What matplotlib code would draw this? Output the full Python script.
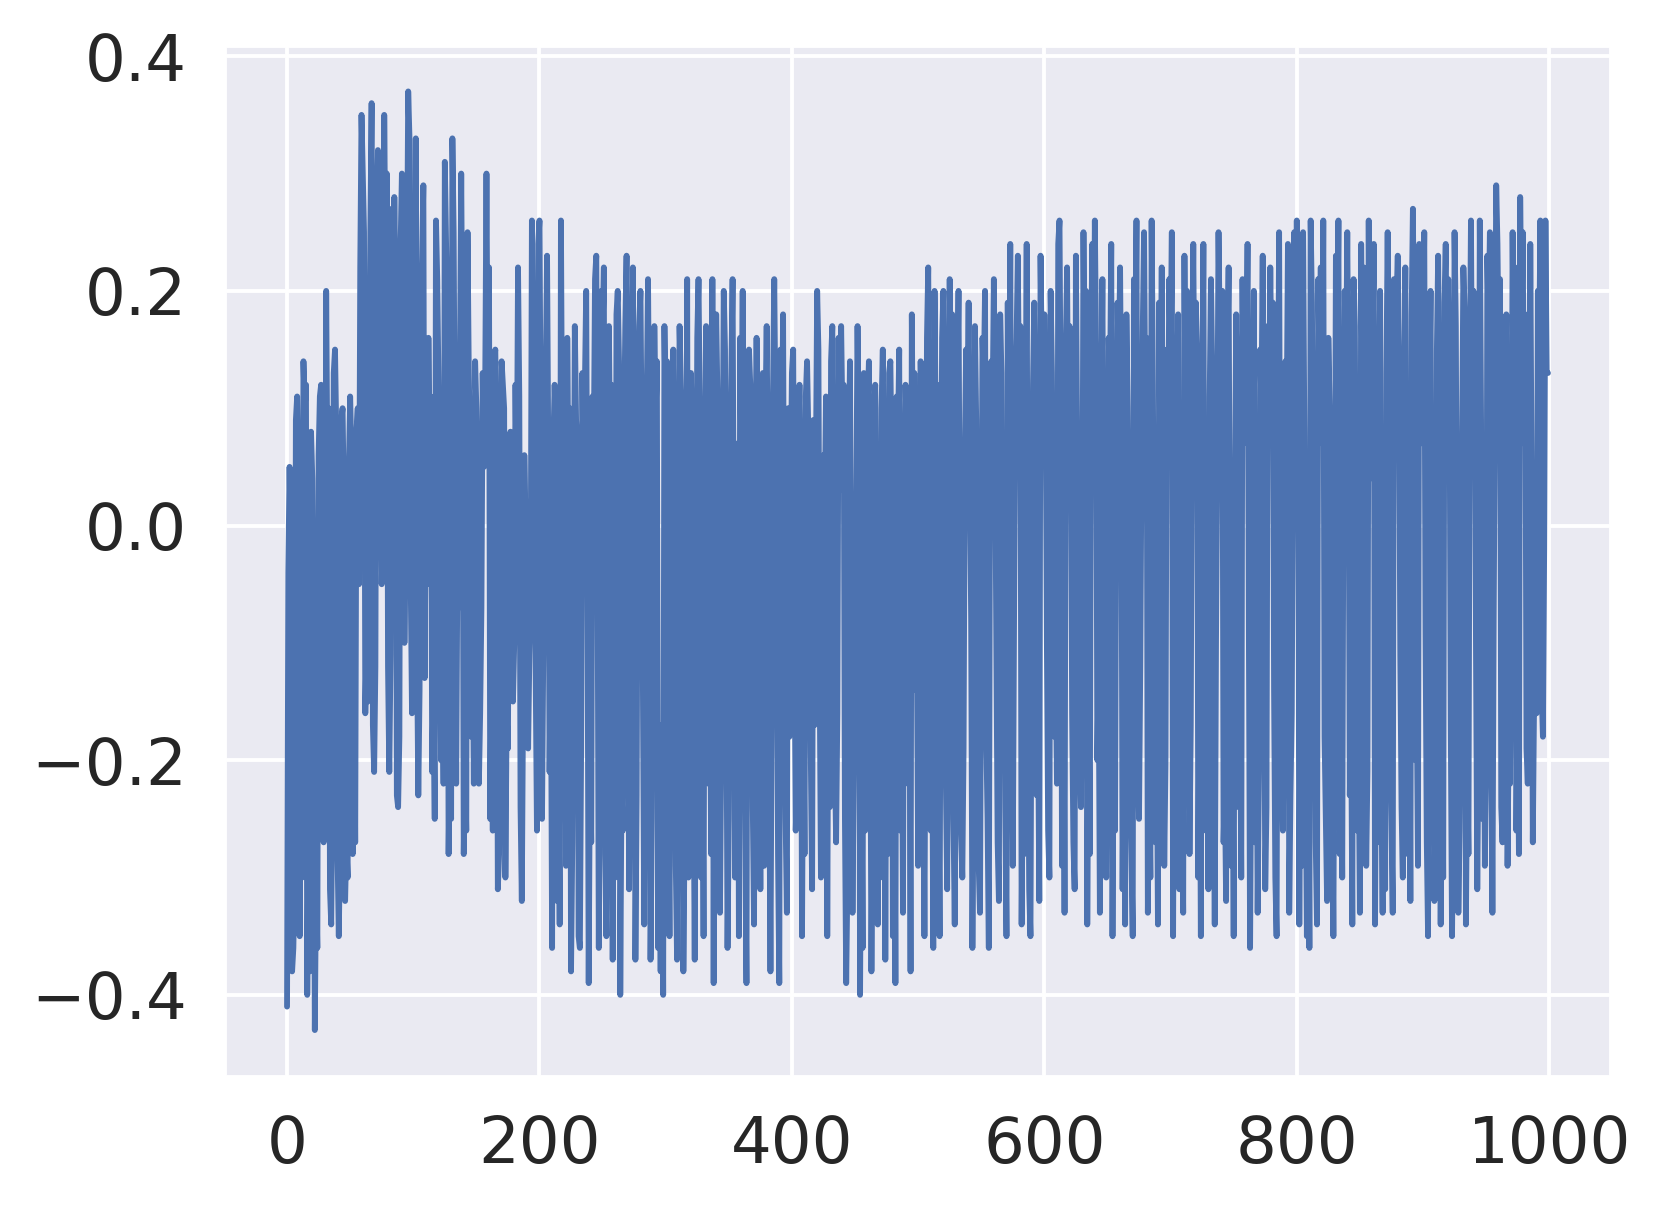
# Noisy signal trace, seaborn darkgrid look
# Values, 1000 samples split in blocks of 200

import matplotlib
matplotlib.use("Agg")
import matplotlib.pyplot as plt
import seaborn as sns

values_000_199 = [
    -0.41, -0.04, 0.05, -0.02, -0.38, -0.36, -0.30, 0.09, 0.11, 0.03, -0.35, -0.20, -0.30, 0.14, 0.10, 0.12, -0.40, -0.25, -0.38, 0.08,
    0.04, -0.10, -0.43, -0.30, -0.36, 0.06, 0.11, 0.12, -0.17, -0.27, -0.18, 0.20, 0.04, 0.10, -0.31, -0.34, -0.22, 0.13, 0.15, 0.08,
    -0.28, -0.35, -0.27, 0.09, 0.10, 0.02, -0.32, -0.27, -0.30, 0.05, 0.11, 0.06, -0.28, -0.12, -0.27, 0.08, 0.10, -0.05, 0.22, 0.35,
    0.30, 0.25, -0.16, -0.10, -0.15, 0.12, 0.25, 0.36, -0.17, -0.21, -0.12, 0.27, 0.32, 0.28, 0.10, -0.05, 0.01, 0.35, 0.22, 0.30,
    -0.12, -0.21, -0.11, 0.27, 0.15, 0.28, 0.20, -0.23, -0.24, -0.18, 0.24, 0.30, 0.19, -0.10, 0.01, 0.21, 0.37, 0.33, -0.05, -0.16,
    0.26, 0.14, 0.33, -0.11, -0.23, -0.14, 0.18, 0.23, 0.29, -0.13, 0.04, -0.05, 0.16, 0.07, 0.11, -0.21, -0.14, -0.25, 0.26, 0.21,
    0.12, -0.05, -0.20, -0.10, -0.22, 0.31, 0.24, 0.18, -0.28, -0.19, -0.25, 0.33, 0.25, 0.05, -0.22, -0.03, -0.07, 0.14, 0.30, 0.13,
    -0.28, -0.20, -0.26, 0.25, 0.13, 0.06, -0.18, -0.08, -0.22, 0.14, 0.10, 0.03, -0.22, -0.16, -0.07, 0.13, 0.05, 0.12, 0.30, 0.10,
    0.22, -0.25, -0.12, -0.26, 0.14, 0.15, 0.06, -0.31, -0.28, -0.19, 0.14, 0.12, 0.10, -0.30, -0.16, -0.19, 0.04, 0.08, -0.08, -0.15,
    -0.10, 0.12, 0.02, 0.22, 0.11, -0.24, -0.32, -0.15, 0.06, 0.00, 0.02, -0.19, -0.11, -0.06, 0.26, 0.09, 0.04, -0.13, -0.26, 0.24,
]

values_200_399 = [
    0.26, 0.08, -0.25, -0.11, -0.07, 0.13, 0.23, 0.06, -0.21, -0.10, -0.36, 0.07, 0.12, 0.08, -0.32, -0.16, -0.34, 0.26, 0.05, -0.13,
    -0.12, -0.29, 0.16, 0.03, 0.10, -0.38, -0.27, -0.07, 0.17, 0.09, 0.07, -0.35, -0.36, -0.19, 0.13, 0.02, 0.12, 0.20, -0.05, -0.39,
    -0.19, -0.27, 0.11, 0.06, 0.21, 0.23, -0.03, -0.36, -0.12, 0.20, 0.16, 0.22, -0.28, -0.35, -0.21, 0.17, 0.05, 0.12, -0.37, -0.05,
    -0.30, 0.18, 0.20, 0.14, -0.40, -0.22, -0.26, 0.08, 0.17, 0.23, -0.05, -0.31, -0.14, 0.12, 0.22, 0.04, -0.37, -0.23, 0.11, 0.17,
    0.20, 0.07, -0.15, -0.34, -0.09, 0.11, 0.21, 0.06, -0.37, -0.25, -0.02, 0.17, 0.09, 0.14, -0.36, -0.20, -0.38, -0.17, -0.40, 0.17,
    0.09, 0.14, -0.22, -0.35, -0.13, 0.06, 0.15, 0.01, -0.29, -0.37, -0.09, 0.17, 0.12, 0.08, -0.38, -0.26, -0.16, 0.21, -0.30, 0.03,
    0.13, 0.06, -0.20, -0.37, -0.08, 0.16, 0.21, 0.10, -0.30, -0.15, -0.35, 0.04, 0.17, 0.12, -0.22, -0.10, -0.28, 0.21, -0.39, 0.08,
    0.18, 0.11, -0.06, -0.33, -0.19, 0.02, 0.20, 0.15, -0.12, -0.36, -0.25, 0.06, 0.13, 0.21, -0.05, -0.30, -0.18, 0.07, -0.35, 0.16,
    0.04, 0.20, -0.11, -0.27, -0.39, 0.09, 0.15, 0.12, -0.02, -0.24, -0.34, 0.06, 0.16, 0.07, -0.14, -0.31, -0.07, 0.13, -0.29, 0.09,
    0.17, 0.03, -0.20, -0.38, -0.15, 0.11, 0.21, 0.09, -0.05, -0.28, -0.39, 0.15, 0.05, 0.18, -0.12, -0.25, -0.33, 0.10, -0.18, 0.02,
]

values_400_599 = [
    0.13, 0.15, -0.09, -0.26, -0.22, 0.07, 0.12, 0.03, -0.35, -0.14, -0.28, 0.11, 0.14, 0.08, -0.06, -0.20, -0.31, 0.09, -0.17, 0.05,
    0.20, 0.15, -0.13, -0.30, -0.22, 0.06, 0.01, 0.11, -0.35, -0.08, -0.24, 0.14, 0.17, -0.03, -0.19, -0.27, -0.16, 0.16, 0.03, 0.17,
    0.09, 0.12, -0.25, -0.39, -0.30, 0.05, 0.14, -0.14, -0.33, -0.21, -0.12, 0.02, 0.17, 0.08, -0.40, -0.18, -0.36, 0.13, -0.26, 0.04,
    0.10, 0.14, -0.12, -0.38, -0.23, 0.09, 0.12, -0.04, -0.34, -0.19, -0.30, 0.10, 0.15, 0.02, -0.37, -0.09, -0.28, 0.13, 0.14, 0.05,
    -0.35, -0.16, -0.39, 0.11, 0.07, 0.15, -0.26, -0.12, -0.33, 0.02, 0.12, 0.08, -0.22, -0.06, -0.38, 0.18, 0.03, 0.13, -0.14, -0.10,
    -0.29, 0.05, 0.14, 0.09, -0.17, -0.35, -0.10, 0.16, 0.22, 0.01, -0.26, -0.14, -0.36, 0.20, 0.07, 0.12, -0.20, -0.35, -0.04, 0.16,
    0.20, 0.08, -0.22, -0.31, -0.13, 0.21, 0.05, 0.18, -0.25, -0.34, -0.17, 0.11, 0.20, -0.03, -0.26, -0.30, -0.19, 0.06, 0.15, 0.10,
    0.19, 0.04, -0.08, -0.36, -0.22, 0.17, 0.09, -0.14, -0.29, -0.33, -0.07, 0.16, 0.12, 0.20, -0.18, -0.25, -0.36, 0.06, 0.14, 0.10,
    0.21, 0.07, -0.11, -0.27, -0.32, 0.18, 0.13, -0.16, -0.05, -0.24, -0.35, 0.19, 0.03, 0.24, -0.15, -0.29, -0.08, 0.11, 0.16, 0.23,
    0.09, 0.17, -0.34, -0.20, -0.28, 0.05, 0.24, -0.13, -0.31, -0.35, -0.06, 0.12, 0.19, 0.08, -0.23, -0.16, -0.32, 0.23, 0.14, 0.06,
]

values_600_799 = [
    0.18, 0.11, -0.10, -0.26, -0.30, 0.20, 0.13, -0.04, -0.18, -0.12, -0.22, 0.24, 0.26, 0.09, -0.29, -0.07, -0.33, 0.15, 0.22, 0.04,
    0.17, 0.10, -0.16, -0.27, -0.31, 0.23, 0.06, -0.10, -0.19, -0.24, -0.06, 0.25, 0.12, 0.20, -0.34, -0.14, -0.28, 0.14, 0.24, 0.07,
    0.26, 0.15, -0.20, -0.12, -0.33, 0.08, 0.21, -0.05, -0.23, -0.30, -0.18, 0.16, 0.11, 0.24, -0.35, -0.10, -0.26, 0.05, 0.19, 0.13,
    0.22, 0.07, -0.31, -0.15, -0.34, 0.18, 0.10, -0.03, -0.22, -0.28, -0.35, 0.21, 0.14, 0.26, -0.19, -0.25, -0.12, 0.06, 0.17, 0.25,
    0.09, 0.16, -0.33, -0.21, -0.30, 0.26, 0.12, -0.08, -0.27, -0.16, -0.34, 0.19, 0.03, 0.22, -0.11, -0.29, -0.20, 0.15, 0.07, 0.21,
    0.14, 0.25, -0.35, -0.06, -0.25, 0.10, 0.18, -0.31, -0.14, -0.22, -0.33, 0.23, 0.05, 0.20, -0.09, -0.28, -0.17, 0.12, 0.24, 0.08,
    0.19, 0.15, -0.30, -0.12, -0.35, 0.07, 0.24, -0.20, -0.26, -0.04, -0.31, 0.11, 0.21, 0.13, -0.18, -0.34, -0.10, 0.06, 0.25, 0.16,
    0.09, 0.20, -0.27, -0.22, -0.32, 0.14, 0.22, -0.07, -0.29, -0.15, -0.35, 0.03, 0.18, 0.11, -0.24, -0.13, -0.30, 0.21, 0.07, 0.19,
    0.13, 0.24, -0.08, -0.36, -0.17, 0.06, 0.20, -0.27, -0.11, -0.33, -0.21, 0.15, 0.10, 0.23, -0.05, -0.31, -0.24, 0.17, 0.08, 0.22,
    0.12, 0.19, -0.14, -0.30, -0.35, 0.05, 0.25, -0.09, -0.19, -0.26, -0.12, 0.14, 0.09, 0.24, -0.33, -0.23, -0.16, 0.06, 0.25, 0.11,
]

values_800_999 = [
    0.26, 0.16, -0.34, -0.10, -0.29, 0.25, 0.08, -0.20, -0.35, -0.14, -0.36, 0.26, 0.19, 0.03, -0.06, -0.27, -0.34, 0.21, 0.13, 0.22,
    0.07, 0.26, -0.18, -0.25, -0.32, 0.16, 0.10, -0.12, -0.21, -0.35, -0.08, 0.23, 0.14, 0.26, -0.28, -0.17, -0.30, 0.05, 0.20, 0.12,
    0.25, 0.09, -0.23, -0.15, -0.34, 0.21, 0.17, -0.06, -0.26, -0.19, -0.33, 0.24, 0.11, 0.22, -0.10, -0.29, -0.21, 0.26, 0.04, 0.18,
    0.15, 0.24, -0.34, -0.13, -0.27, 0.08, 0.20, -0.22, -0.33, -0.07, -0.31, 0.13, 0.25, 0.10, -0.18, -0.25, -0.33, 0.21, 0.06, 0.19,
    0.23, 0.14, -0.11, -0.24, -0.30, 0.09, 0.22, -0.16, -0.28, -0.05, -0.32, 0.18, 0.27, 0.12, -0.20, -0.14, -0.29, 0.24, 0.07, 0.21,
    0.16, 0.25, -0.09, -0.27, -0.35, 0.11, 0.20, -0.19, -0.08, -0.32, -0.22, 0.15, 0.23, 0.06, -0.34, -0.12, -0.30, 0.19, 0.24, 0.10,
    0.21, 0.13, -0.17, -0.35, -0.23, 0.25, 0.17, -0.09, -0.33, -0.26, -0.14, 0.08, 0.22, 0.18, -0.34, -0.20, -0.28, 0.12, 0.26, 0.06,
    0.20, 0.15, -0.11, -0.31, -0.18, 0.26, 0.09, -0.25, -0.06, -0.29, -0.21, 0.23, 0.17, 0.25, -0.13, -0.33, -0.08, 0.11, 0.29, 0.24,
    0.14, 0.21, -0.24, -0.27, -0.10, 0.09, 0.18, -0.29, -0.16, -0.22, -0.05, 0.25, 0.12, 0.22, -0.26, -0.13, -0.28, 0.28, 0.16, 0.25,
    0.07, 0.18, -0.19, -0.22, -0.10, 0.24, 0.05, -0.27, -0.15, -0.09, -0.16, 0.20, 0.14, 0.26, -0.14, -0.18, -0.02, 0.26, 0.13, 0.13,
]

signal = values_000_199 + values_200_399 + values_400_599 + values_600_799 + values_800_999
print("samples:", len(signal))

sns.set_theme(style="darkgrid", font_scale=1.5)

W, H, DPI = 1661, 1207, 280
fig = plt.figure(figsize=(W / DPI, H / DPI), dpi=DPI)
fig.subplots_adjust(left=224 / W, right=1611 / W, top=1 - 44.5 / H, bottom=1 - 1077 / H)
ax = fig.add_subplot(111)

ax.plot(signal)
ax.set_yticks([-0.4, -0.2, 0.0, 0.2, 0.4])
ax.set_xticks([0, 200, 400, 600, 800, 1000])

fig.savefig("out.png", dpi=DPI)
